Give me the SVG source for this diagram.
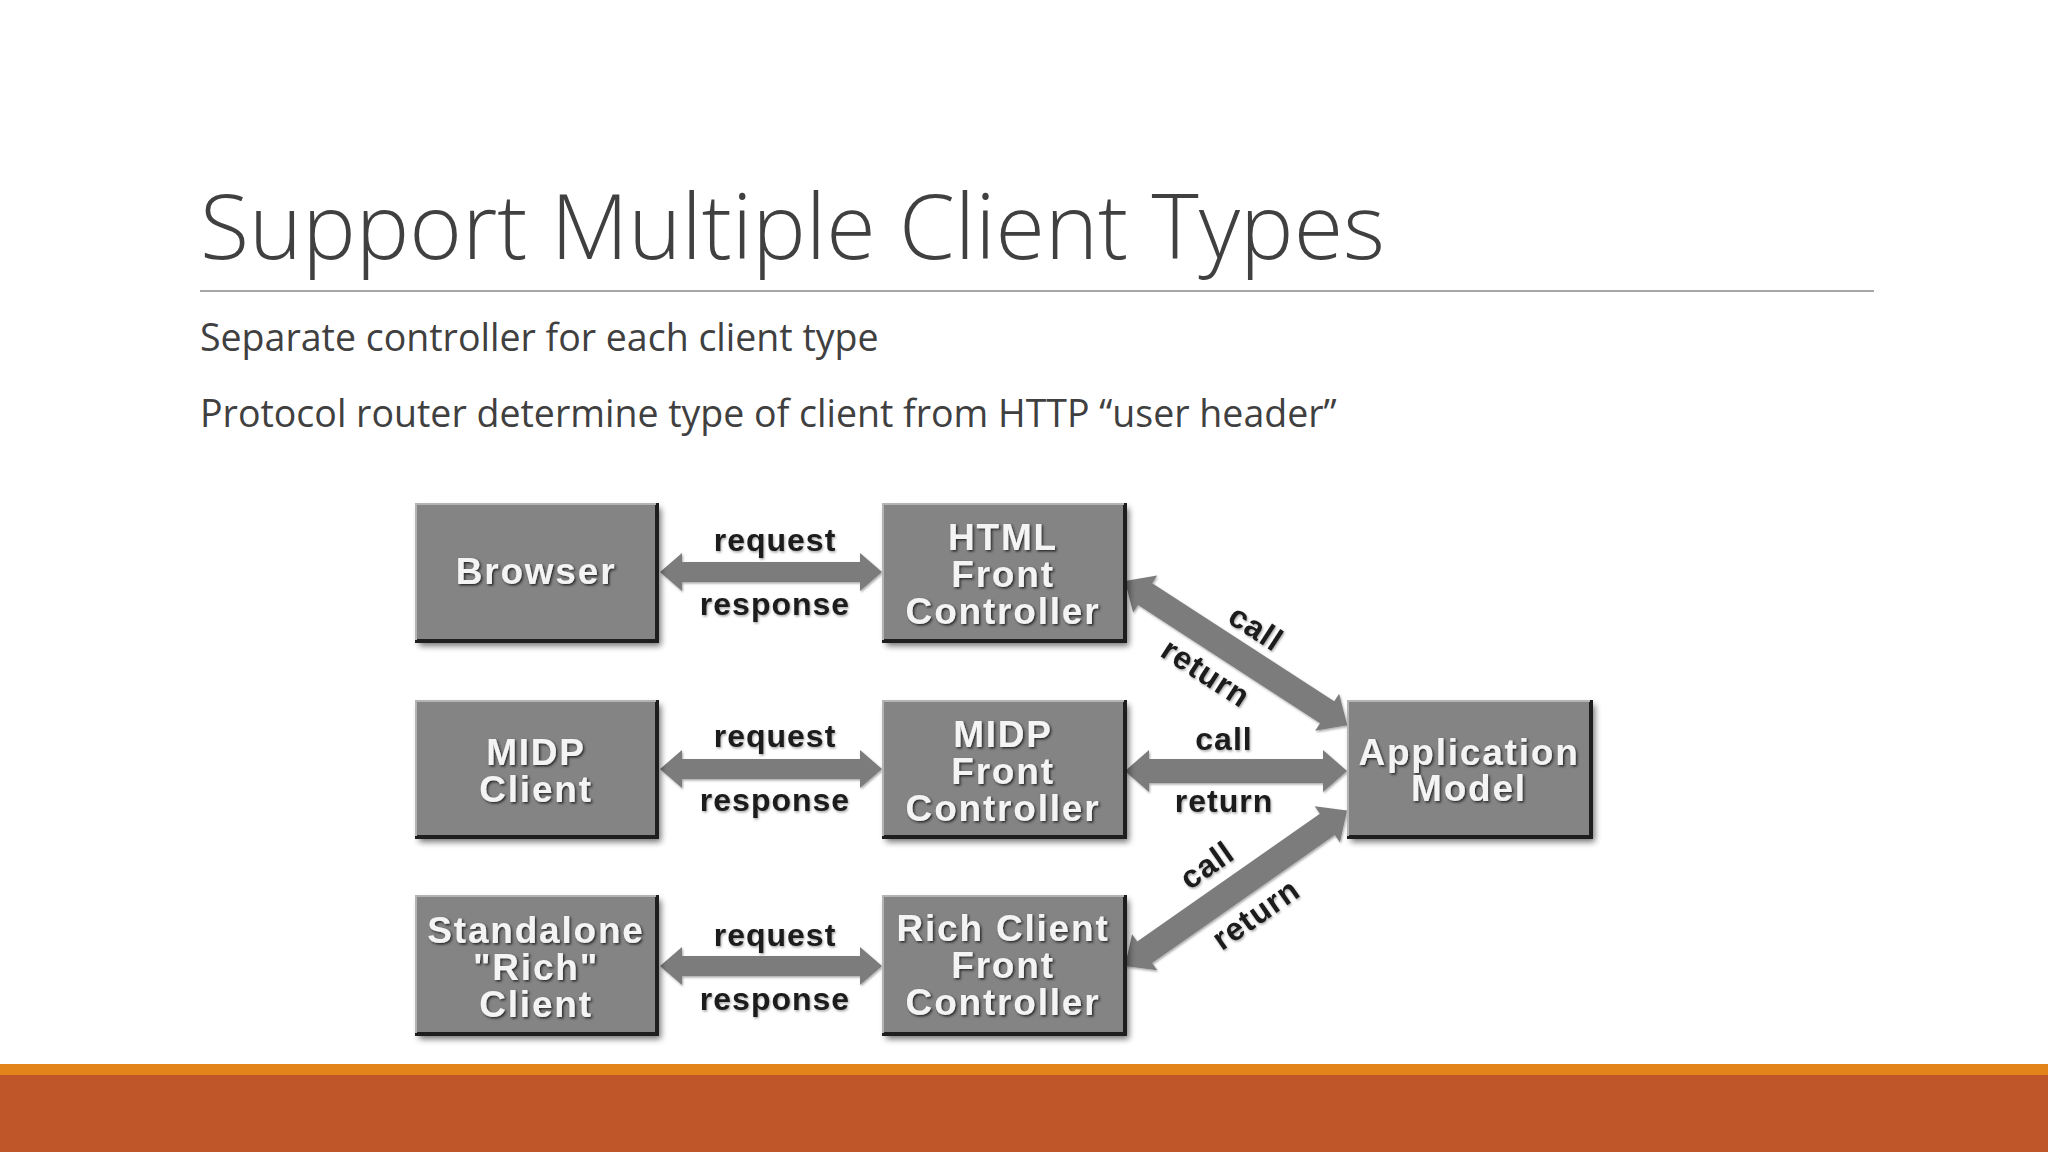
<svg xmlns="http://www.w3.org/2000/svg" width="2048" height="1152" viewBox="0 0 2048 1152">
<defs>
<filter id="boxsh" x="-10%" y="-10%" width="125%" height="130%">
<feGaussianBlur in="SourceAlpha" stdDeviation="3"/>
<feOffset dx="4" dy="5" result="b"/>
<feComponentTransfer><feFuncA type="linear" slope="0.55"/></feComponentTransfer>
<feMerge><feMergeNode/><feMergeNode in="SourceGraphic"/></feMerge>
</filter>
<filter id="txtsh" x="-10%" y="-20%" width="120%" height="140%">
<feDropShadow dx="1.5" dy="1.5" stdDeviation="0.8" flood-color="#1a1a1a" flood-opacity="0.9"/>
</filter>
<filter id="arrsh" x="-10%" y="-30%" width="120%" height="160%">
<feDropShadow dx="1" dy="1.5" stdDeviation="1.2" flood-color="#000" flood-opacity="0.35"/>
</filter>
<path id="arrH" d="M0 0 L22 -19 L22 -10 L200 -10 L200 -19 L222 0 L200 19 L200 10 L22 10 L22 19 Z"/>
</defs>
<style>
.title{font-family:"Open Sans","Liberation Sans",sans-serif;font-weight:300;font-size:90px;fill:#404040}
.sub{font-family:"Open Sans","Liberation Sans",sans-serif;font-size:37.5px;fill:#404040}
.box{fill:#848484;stroke:none}
.edge{fill:none;stroke:#1e1e1e;stroke-width:4}
.hl{fill:none;stroke:#b4b4b4;stroke-width:2}
.bt{font-family:"Liberation Sans",Arial,sans-serif;font-weight:bold;font-size:37px;letter-spacing:1.8px;fill:#f4f4f4;text-anchor:middle}
.lbl{font-family:"Liberation Sans",Arial,sans-serif;font-weight:bold;font-size:32px;letter-spacing:1px;fill:#1a1a1a;text-anchor:middle}
.arr{fill:#7c7c7c}
</style>
<rect width="2048" height="1152" fill="#ffffff"/>
<text class="title" x="200" y="259">Support Multiple Client Types</text>
<line x1="200" y1="291" x2="1874" y2="291" stroke="#a6a6a6" stroke-width="2"/>
<text class="sub" x="200" y="351">Separate controller for each client type</text>
<text class="sub" x="200" y="427">Protocol router determine type of client from HTTP “user header”</text>

<g id="connectors" filter="url(#arrsh)">
<use href="#arrH" class="arr" x="660" y="572"/>
<use href="#arrH" class="arr" x="660" y="769"/>
<use href="#arrH" class="arr" x="660" y="966"/>
<path class="arr" transform="translate(1125,581) rotate(33)" d="M0 0 L24 -22 L24 -13 L241 -13 L241 -22 L265 0 L241 22 L241 13 L24 13 L24 22 Z"/>
<path class="arr" transform="translate(1125,771)" d="M0 0 L24 -21 L24 -12 L198 -12 L198 -21 L222 0 L198 21 L198 12 L24 12 L24 21 Z"/>
<path class="arr" transform="translate(1125,966) rotate(-35)" d="M0 0 L24 -22 L24 -13 L247 -13 L247 -22 L271 0 L247 22 L247 13 L24 13 L24 22 Z"/>
<text class="lbl" x="775" y="551">request</text>
<text class="lbl" x="775" y="615">response</text>
<text class="lbl" x="775" y="747">request</text>
<text class="lbl" x="775" y="811">response</text>
<text class="lbl" x="775" y="946">request</text>
<text class="lbl" x="775" y="1010">response</text>
<text class="lbl" transform="translate(1250,637) rotate(33)">call</text>
<text class="lbl" transform="translate(1200,682) rotate(33)">return</text>
<text class="lbl" x="1224" y="750">call</text>
<text class="lbl" x="1224" y="812">return</text>
<text class="lbl" transform="translate(1213,874) rotate(-35)">call</text>
<text class="lbl" transform="translate(1262,923) rotate(-35)">return</text>
</g>

<g id="browser">
<rect class="box" x="415" y="503" width="242" height="138" filter="url(#boxsh)"/>
<path class="edge" d="M657 503 V641 H415"/><path class="hl" d="M416 640 V504 H656"/>
<text class="bt" x="536" y="584" filter="url(#txtsh)">Browser</text>
</g>
<g id="html-front-controller">
<rect class="box" x="882" y="503" width="243" height="138" filter="url(#boxsh)"/>
<path class="edge" d="M1125 503 V641 H882"/><path class="hl" d="M883 640 V504 H1124"/>
<text class="bt" x="1003" y="550" filter="url(#txtsh)">HTML</text>
<text class="bt" x="1003" y="587" filter="url(#txtsh)">Front</text>
<text class="bt" x="1003" y="624" filter="url(#txtsh)">Controller</text>
</g>
<g id="midp-client">
<rect class="box" x="415" y="700" width="242" height="137" filter="url(#boxsh)"/>
<path class="edge" d="M657 700 V837 H415"/><path class="hl" d="M416 836 V701 H656"/>
<text class="bt" x="536" y="765" filter="url(#txtsh)">MIDP</text>
<text class="bt" x="536" y="802" filter="url(#txtsh)">Client</text>
</g>
<g id="midp-front-controller">
<rect class="box" x="882" y="700" width="243" height="137" filter="url(#boxsh)"/>
<path class="edge" d="M1125 700 V837 H882"/><path class="hl" d="M883 836 V701 H1124"/>
<text class="bt" x="1003" y="747" filter="url(#txtsh)">MIDP</text>
<text class="bt" x="1003" y="784" filter="url(#txtsh)">Front</text>
<text class="bt" x="1003" y="821" filter="url(#txtsh)">Controller</text>
</g>
<g id="standalone-rich-client">
<rect class="box" x="415" y="895" width="242" height="139" filter="url(#boxsh)"/>
<path class="edge" d="M657 895 V1034 H415"/><path class="hl" d="M416 1033 V896 H656"/>
<text class="bt" x="536" y="943" filter="url(#txtsh)">Standalone</text>
<text class="bt" x="536" y="980" filter="url(#txtsh)">"Rich"</text>
<text class="bt" x="536" y="1017" filter="url(#txtsh)">Client</text>
</g>
<g id="rich-client-front-controller">
<rect class="box" x="882" y="895" width="243" height="139" filter="url(#boxsh)"/>
<path class="edge" d="M1125 895 V1034 H882"/><path class="hl" d="M883 1033 V896 H1124"/>
<text class="bt" x="1003" y="941" filter="url(#txtsh)">Rich Client</text>
<text class="bt" x="1003" y="978" filter="url(#txtsh)">Front</text>
<text class="bt" x="1003" y="1015" filter="url(#txtsh)">Controller</text>
</g>
<g id="application-model">
<rect class="box" x="1347" y="700" width="244" height="137" filter="url(#boxsh)"/>
<path class="edge" d="M1591 700 V837 H1347"/><path class="hl" d="M1348 836 V701 H1590"/>
<text class="bt" x="1469" y="765" filter="url(#txtsh)">Application</text>
<text class="bt" x="1469" y="801" filter="url(#txtsh)">Model</text>
</g>

<rect x="0" y="1064" width="2048" height="11" fill="#E2841A"/>
<rect x="0" y="1075" width="2048" height="77" fill="#BE5629"/>
</svg>
